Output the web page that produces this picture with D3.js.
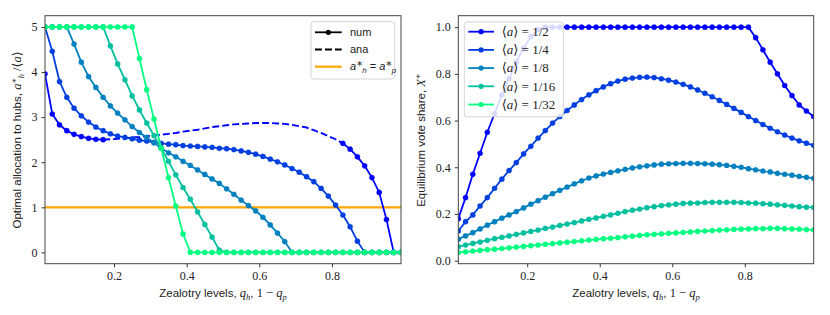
<!DOCTYPE html>
<html>
<head>
<meta charset="UTF-8" />
<title>Zealotry levels - allocation and vote share</title>
<script src="https://d3js.org/d3.v7.min.js"></script>
<style>
  body { margin: 0; background: #ffffff; }
  svg { display: block; }
  .tick text { font-family: "Liberation Serif", "DejaVu Serif", serif; font-size: 12px; fill: #222; }
  .tick line { stroke: #333; }
  .domain { display: none; }
  .lab { font-family: "Liberation Sans", "DejaVu Sans", sans-serif; font-size: 11.5px; fill: #222; }
  .leg { font-family: "Liberation Sans", "DejaVu Sans", sans-serif; font-size: 11px; fill: #222; }
</style>
</head>
<body>
<svg id="chart" width="830" height="315"></svg>
<script>
  // zealotry grid (x values shared by every curve)
  const zealotry = [0.01, 0.03, 0.05, 0.07, 0.09, 0.11, 0.13, 0.15, 0.17, 0.19,
                    0.21, 0.23, 0.25, 0.27, 0.29, 0.31, 0.33, 0.35, 0.37, 0.39,
                    0.41, 0.43, 0.45, 0.47, 0.49, 0.51, 0.53, 0.55, 0.57, 0.59,
                    0.61, 0.63, 0.65, 0.67, 0.69, 0.71, 0.73, 0.75, 0.77, 0.79,
                    0.81, 0.83, 0.85, 0.87, 0.89, 0.91, 0.93, 0.95, 0.97, 0.99];

  const budgetLabels = ["1/2", "1/4", "1/8", "1/16", "1/32"];
  const colors = ["#0000ff", "#003fdf", "#0080bf", "#00bf9f", "#00ff80"];

  // left panel: optimal allocation to hubs (numerical)
  const alloc_1_2 = [3.96, 3.07, 2.83, 2.70, 2.62, 2.57, 2.53, 2.51, 2.50,
    null, null, null, null, null, null, null, null, null, null, null, null, null, null, null, null,
    null, null, null, null, null, null, null, null, null, null, null, null, null, null, null, null,
    2.42, 2.29, 2.12, 1.92, 1.66, 1.33, 0.73, 0, 0];
  const alloc_1_4 = [5.0, 4.46, 3.79, 3.44, 3.20, 3.03, 2.89, 2.78, 2.70, 2.63,
    2.58, 2.55, 2.52, 2.49, 2.47, 2.44, 2.42, 2.40, 2.39, 2.37,
    2.36, 2.35, 2.34, 2.33, 2.31, 2.30, 2.28, 2.25, 2.22, 2.18,
    2.13, 2.07, 2.01, 1.94, 1.86, 1.78, 1.68, 1.57, 1.42, 1.25,
    1.05, 0.83, 0.57, 0.25, 0, 0, 0, 0, 0, 0];
  const alloc_1_8 = [5.0, 5.0, 5.0, 5.0, 4.62, 4.22, 3.90, 3.66, 3.44, 3.25,
    3.09, 2.94, 2.79, 2.66, 2.55, 2.43, 2.31, 2.21, 2.12, 2.02,
    1.93, 1.83, 1.73, 1.63, 1.53, 1.41, 1.29, 1.16, 1.04, 0.92,
    0.78, 0.61, 0.43, 0.24, 0, 0, 0, 0, 0, 0,
    0, 0, 0, 0, 0, 0, 0, 0, 0, 0];
  const alloc_1_16 = [5.0, 5.0, 5.0, 5.0, 5.0, 5.0, 5.0, 5.0, 5.0, 4.58,
    4.18, 3.83, 3.47, 3.16, 2.87, 2.59, 2.31, 2.02, 1.72, 1.44,
    1.18, 0.90, 0.62, 0.34, 0.05, 0, 0, 0, 0, 0,
    0, 0, 0, 0, 0, 0, 0, 0, 0, 0,
    0, 0, 0, 0, 0, 0, 0, 0, 0, 0];
  const alloc_1_32 = [5.0, 5.0, 5.0, 5.0, 5.0, 5.0, 5.0, 5.0, 5.0, 5.0,
    5.0, 5.0, 5.0, 4.30, 3.61, 2.96, 2.31, 1.66, 1.03, 0.41,
    0, 0, 0, 0, 0, 0, 0, 0, 0, 0,
    0, 0, 0, 0, 0, 0, 0, 0, 0, 0,
    0, 0, 0, 0, 0, 0, 0, 0, 0, 0];
  const allocSeries = [alloc_1_2, alloc_1_4, alloc_1_8, alloc_1_16, alloc_1_32];

  // analytic curve for <a> = 1/2 where the numerics are missing (q = 0.17 .. 0.83)
  const anaZealotry = zealotry.slice(8, 42);
  const ana_1_2 = [2.50, 2.51, 2.52, 2.53, 2.55, 2.56, 2.58, 2.59, 2.61, 2.63,
    2.65, 2.68, 2.70, 2.72, 2.75, 2.78, 2.80, 2.82, 2.84, 2.85,
    2.86, 2.87, 2.87, 2.87, 2.86, 2.85, 2.83, 2.80, 2.77, 2.71,
    2.65, 2.58, 2.51, 2.42];

  const equalAlloc = 1;

  // right panel: equilibrium vote share
  const vote_1_2 = [0.18, 0.27, 0.37, 0.46, 0.55, 0.63, 0.71, 0.78, 0.85, 0.91,
    0.96, 0.99, 1, 1, 1, 1, 1, 1, 1, 1,
    1, 1, 1, 1, 1, 1, 1, 1, 1, 1,
    1, 1, 1, 1, 1, 1, 1, 1, 1, 1,
    1, 0.955, 0.903, 0.85, 0.80, 0.75, 0.707, 0.667, 0.641, 0.617];
  const vote_1_4 = [0.127, 0.167, 0.196, 0.234, 0.27, 0.31, 0.349, 0.386, 0.42, 0.457,
    0.49, 0.525, 0.557, 0.589, 0.617, 0.643, 0.667, 0.69, 0.71, 0.728,
    0.744, 0.758, 0.769, 0.777, 0.782, 0.785, 0.786, 0.784, 0.779, 0.773,
    0.765, 0.755, 0.744, 0.731, 0.717, 0.702, 0.686, 0.669, 0.652, 0.635,
    0.617, 0.60, 0.583, 0.567, 0.552, 0.538, 0.525, 0.513, 0.503, 0.494];
  const vote_1_8 = [0.092, 0.106, 0.12, 0.136, 0.152, 0.167, 0.182, 0.196, 0.21, 0.226,
    0.242, 0.257, 0.272, 0.287, 0.301, 0.315, 0.329, 0.342, 0.354, 0.363,
    0.371, 0.378, 0.385, 0.391, 0.397, 0.402, 0.406, 0.41, 0.413, 0.415,
    0.416, 0.417, 0.417, 0.416, 0.415, 0.413, 0.411, 0.408, 0.404, 0.40,
    0.394, 0.389, 0.384, 0.38, 0.374, 0.37, 0.366, 0.361, 0.357, 0.353];
  const vote_1_16 = [0.06, 0.067, 0.074, 0.08, 0.087, 0.094, 0.10, 0.106, 0.113, 0.119,
    0.125, 0.131, 0.138, 0.144, 0.151, 0.157, 0.163, 0.17, 0.177, 0.183,
    0.19, 0.196, 0.203, 0.21, 0.216, 0.221, 0.227, 0.231, 0.236, 0.239,
    0.242, 0.245, 0.246, 0.247, 0.249, 0.25, 0.25, 0.25, 0.25, 0.249,
    0.247, 0.246, 0.244, 0.242, 0.239, 0.237, 0.234, 0.231, 0.229, 0.228];
  const vote_1_32 = [0.035, 0.038, 0.041, 0.044, 0.047, 0.049, 0.052, 0.055, 0.058, 0.061,
    0.064, 0.067, 0.07, 0.073, 0.076, 0.079, 0.082, 0.085, 0.088, 0.091,
    0.094, 0.096, 0.099, 0.102, 0.105, 0.108, 0.111, 0.113, 0.115, 0.117,
    0.119, 0.121, 0.123, 0.125, 0.127, 0.129, 0.131, 0.132, 0.134, 0.135,
    0.136, 0.137, 0.137, 0.138, 0.138, 0.137, 0.136, 0.135, 0.133, 0.132];
  const voteSeries = [vote_1_2, vote_1_4, vote_1_8, vote_1_16, vote_1_32];

  const xTicks = [0.2, 0.4, 0.6, 0.8];
  const allocTicks = [0, 1, 2, 3, 4, 5];
  const voteTicks = [0, 0.2, 0.4, 0.6, 0.8, 1.0];

  const svg = d3.select("#chart");
  const yTop = 15.7, yBottom = 263.7;
  const serif = "Liberation Serif, DejaVu Serif, serif";
  const R = 2.6;

  // writes a label made of plain / italic / sub / sup parts
  function rich(text, parts) {
    parts.forEach(p => {
      const t = text.append("tspan").text(p.t);
      if (p.it) t.attr("font-style", "italic");
      if (p.serif) t.attr("font-family", serif);
      if (p.size) t.attr("font-size", p.size);
      if (p.dy) t.attr("dy", p.dy);
      if (p.dx) t.attr("dx", p.dx);
    });
    return text;
  }

  function drawPanel(x0, x1, yDomain, yTicks, yFmt) {
    const x = d3.scaleLinear().domain([0.01, 0.99]).range([x0, x1]);
    const y = d3.scaleLinear().domain(yDomain).range([yBottom, yTop]);
    const g = svg.append("g");

    g.append("g").attr("transform", `translate(0,${yBottom})`)
      .call(d3.axisBottom(x).tickValues(xTicks).tickSize(3.5).tickPadding(4).tickFormat(d3.format(".1f")));
    g.append("g").attr("transform", `translate(${x0},0)`)
      .call(d3.axisLeft(y).tickValues(yTicks).tickSize(3.5).tickPadding(4).tickFormat(yFmt));

    const clip = "clip" + Math.round(x0);
    svg.append("clipPath").attr("id", clip).append("rect")
      .attr("x", x0).attr("y", yTop).attr("width", x1 - x0).attr("height", yBottom - yTop);
    const plot = g.append("g").attr("clip-path", `url(#${clip})`);

    return { x, y, g, plot };
  }

  function drawSeries(p, values, color) {
    const pts = zealotry.map((q, i) => [q, values[i]]);
    const line = d3.line().defined(d => d[1] != null).x(d => p.x(d[0])).y(d => p.y(d[1]));
    p.plot.append("path").datum(pts).attr("d", line)
      .attr("fill", "none").attr("stroke", color).attr("stroke-width", 1.8);
    p.plot.selectAll(null).data(pts.filter(d => d[1] != null)).enter().append("circle")
      .attr("cx", d => p.x(d[0])).attr("cy", d => p.y(d[1])).attr("r", R)
      .attr("fill", color).attr("stroke", color).attr("stroke-opacity", 0.5).attr("stroke-width", 0.6);
  }

  function frame(p, x0, x1) {
    p.g.append("rect").attr("x", x0).attr("y", yTop).attr("width", x1 - x0).attr("height", yBottom - yTop)
      .attr("fill", "none").attr("stroke", "#444").attr("stroke-width", 1);
  }

  // ---------- left panel ----------
  const L = drawPanel(45, 401, [-0.25, 5.25], allocTicks, d3.format("d"));

  L.plot.append("line")
    .attr("x1", L.x(0.01)).attr("x2", L.x(0.99))
    .attr("y1", L.y(equalAlloc)).attr("y2", L.y(equalAlloc))
    .attr("stroke", "#ffa500").attr("stroke-width", 2.2);

  allocSeries.forEach((s, i) => {
    drawSeries(L, s, colors[i]);
    if (i === 0) {
      L.plot.append("path")
        .datum(anaZealotry.map((q, j) => [q, ana_1_2[j]]))
        .attr("d", d3.line().x(d => L.x(d[0])).y(d => L.y(d[1])))
        .attr("fill", "none").attr("stroke", colors[0]).attr("stroke-width", 1.9)
        .attr("stroke-dasharray", "7,3");
    }
  });
  frame(L, 45, 401);

  // left legend
  const lg = svg.append("g").attr("transform", "translate(311,21.7)");
  lg.append("rect").attr("width", 83.7).attr("height", 57.3).attr("rx", 2.5)
    .attr("fill", "#fff").attr("fill-opacity", 0.85).attr("stroke", "#d4d4d4");
  const legL = [{ name: "num", dash: null, marker: true, color: "#000" },
                { name: "ana", dash: "7,3", marker: false, color: "#000" },
                { name: "eq", dash: null, marker: false, color: "#ffa500" }];
  legL.forEach((e, i) => {
    const yy = 10.6 + i * 17.2;
    lg.append("line").attr("x1", 4).attr("x2", 30.7).attr("y1", yy).attr("y2", yy)
      .attr("stroke", e.color).attr("stroke-width", e.color === "#000" ? 1.8 : 2.2)
      .attr("stroke-dasharray", e.dash);
    if (e.marker) lg.append("circle").attr("cx", 17.3).attr("cy", yy).attr("r", R).attr("fill", "#000");
    const t = lg.append("text").attr("class", "leg").attr("x", 39).attr("y", yy + 3.8);
    if (e.name === "eq") {
      rich(t.attr("font-family", serif).attr("font-size", 12), [
        { t: "a", it: true }, { t: "∗", size: 8, dy: -4 }, { t: "h", it: true, size: 8, dx: -0.5, dy: 7 },
        { t: " = ", dy: -3 }, { t: "a", it: true }, { t: "∗", size: 8, dy: -4 },
        { t: "p", it: true, size: 8, dx: -0.5, dy: 7 }]);
    } else {
      t.text(e.name);
    }
  });

  // left axis labels
  rich(svg.append("text").attr("class", "lab").attr("text-anchor", "middle")
    .attr("transform", "translate(20.5,140) rotate(-90)"), [
    { t: "Optimal allocation to hubs, " },
    { t: "a", it: true, serif: true, size: 12.5 }, { t: "∗", serif: true, size: 8.5, dy: -4 },
    { t: "h", it: true, serif: true, size: 8.5, dx: -0.5, dy: 7 },
    { t: " /⟨", serif: true, size: 12.5, dy: -3 }, { t: "a", it: true, serif: true, size: 12.5 },
    { t: "⟩", serif: true, size: 12.5 }]);

  function xLabel(cx) {
    rich(svg.append("text").attr("class", "lab").attr("text-anchor", "middle")
      .attr("x", cx).attr("y", 297), [
      { t: "Zealotry levels, " }, { t: "q", it: true, serif: true, size: 12.5 },
      { t: "h", it: true, serif: true, size: 8.5, dy: 2.5 }, { t: ", ", dy: -2.5 },
      { t: "1 − ", serif: true, size: 12.5 }, { t: "q", it: true, serif: true, size: 12.5 },
      { t: "p", it: true, serif: true, size: 8.5, dy: 2.5 }]);
  }
  xLabel(223);

  // ---------- right panel ----------
  const Rp = drawPanel(458.3, 813.7, [-0.013, 1.049], voteTicks, d3.format(".1f"));
  voteSeries.forEach((s, i) => drawSeries(Rp, s, colors[i]));
  frame(Rp, 458.3, 813.7);

  const rg = svg.append("g").attr("transform", "translate(464.3,22)");
  rg.append("rect").attr("width", 99).attr("height", 94.7).attr("rx", 2.5)
    .attr("fill", "#fff").attr("fill-opacity", 0.85).attr("stroke", "#d4d4d4");
  budgetLabels.forEach((b, i) => {
    const yy = 9.7 + i * 18.2;
    rg.append("line").attr("x1", 4).attr("x2", 29.7).attr("y1", yy).attr("y2", yy)
      .attr("stroke", colors[i]).attr("stroke-width", 1.8);
    rg.append("circle").attr("cx", 16.8).attr("cy", yy).attr("r", R).attr("fill", colors[i]);
    rich(rg.append("text").attr("x", 37.4).attr("y", yy + 4.2)
      .attr("font-family", serif).attr("font-size", 13).attr("fill", "#222"), [
      { t: "⟨" }, { t: "a", it: true }, { t: "⟩ = " + b }]);
  });

  rich(svg.append("text").attr("class", "lab").attr("text-anchor", "middle")
    .attr("transform", "translate(424.5,140) rotate(-90)"), [
    { t: "Equilibrium vote share, " }, { t: "X", it: true, serif: true, size: 12.5 },
    { t: "∗", serif: true, size: 8.5, dy: -4 }]);
  xLabel(636);
</script>
</body>
</html>
